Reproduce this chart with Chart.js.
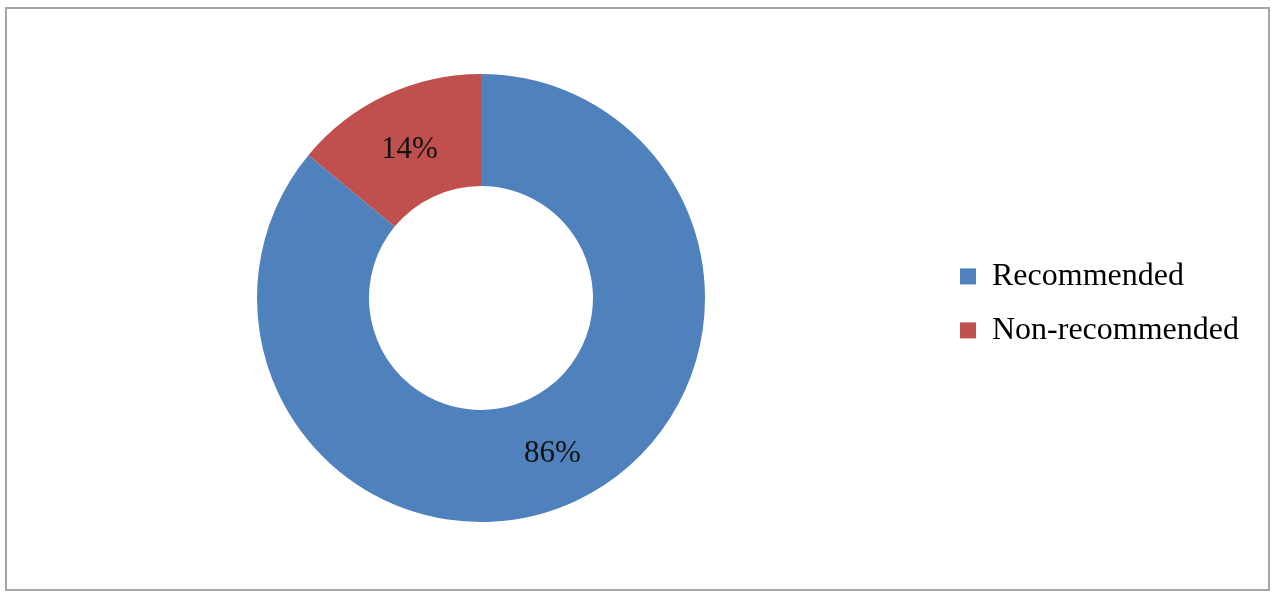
<!DOCTYPE html>
<html>
<head>
<meta charset="utf-8">
<script src="https://cdn.jsdelivr.net/npm/chart.js@4.4.1/dist/chart.umd.min.js"></script>
<style>
  body { margin: 0; background: #fff; }
  #frame {
    position: absolute;
    left: 5px;
    top: 7px;
    width: 1261px;
    height: 580px;
    border: 2px solid #a6a6a6;
  }
</style>
</head>
<body>
<div id="frame"><canvas id="donut"></canvas></div>
<script>
// Chart data
const categories = ["Recommended", "Non-recommended"];
const shares = [86, 14];
const valueLabels = ["86%", "14%"];

const serif = "'Liberation Serif', 'Times New Roman', serif";

// Percent text in the middle of each slice
const sliceLabels = {
  id: "sliceLabels",
  afterDatasetsDraw(chart) {
    const ctx = chart.ctx;
    const meta = chart.getDatasetMeta(0);
    ctx.save();
    ctx.font = "31px " + serif;
    ctx.fillStyle = "#111";
    ctx.textAlign = "center";
    ctx.textBaseline = "middle";
    meta.data.forEach((arc, i) => {
      const pos = arc.tooltipPosition();
      ctx.fillText(valueLabels[i], pos.x, pos.y + 4);
    });
    ctx.restore();
  }
};

new Chart(document.getElementById("donut"), {
  type: "doughnut",
  data: {
    labels: categories,
    datasets: [{
      data: shares,
      backgroundColor: ["#4f81bd", "#c0504d"],
      borderWidth: 0
    }]
  },
  options: {
    responsive: true,
    maintainAspectRatio: false,
    animation: false,
    cutout: "50%",
    layout: { padding: { top: 65, bottom: 67, left: 17, right: 19 } },
    plugins: {
      tooltip: { enabled: false },
      legend: {
        position: "right",
        // empty title just nudges the entries down a few px
        title: { display: true, text: "", font: { size: 9 }, padding: 0 },
        labels: {
          boxWidth: 16,
          boxHeight: 16,
          padding: 22,
          color: "#000",
          font: { family: serif, size: 32 }
        }
      }
    }
  },
  plugins: [sliceLabels]
});
</script>
</body>
</html>
